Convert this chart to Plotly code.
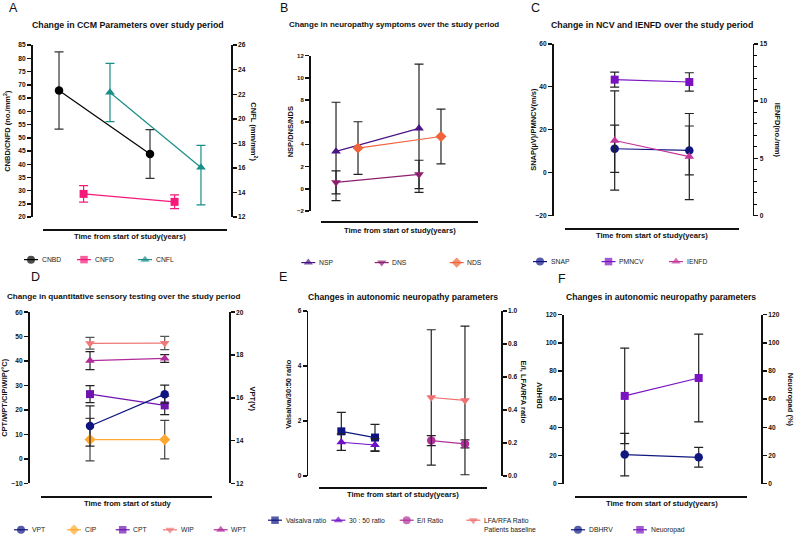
import plotly.graph_objects as go

W, H = 794, 538
FONT = "Liberation Sans, Arial, sans-serif"

# ---------------- data ----------------
time_points = [0, 1]

# Panel A - CCM parameters (mean, upper SD, lower SD)
cnbd_mean = [67.9, 43.9]
cnbd_sd = [14.6, 9.2]
cnbd_sd_minus = [14.6, 9.2]
cnfd_mean = [28.8, 25.8]
cnfd_sd = [3.1, 2.6]
cnfd_sd_minus = [3.1, 2.6]
cnfl_mean = [22.15, 16.05]
cnfl_sd = [2.37, 1.8]
cnfl_sd_minus = [2.37, 3.05]

# Panel B - neuropathy symptoms
nsp_mean = [3.37, 5.45]
nsp_sd = [4.43, 5.78]
dns_mean = [0.58, 1.29]
dns_sd = [1.04, 1.28]
nds_mean = [3.67, 4.71]
nds_sd = [2.37, 2.46]

# Panel C - NCV and IENFD
snap_mean = [11.1, 10.3]
snap_sd = [11.0, 11.4]
pmncv_mean = [43.3, 42.2]
pmncv_sd = [3.5, 4.3]
ienfd_mean = [6.55, 5.15]
ienfd_sd = [4.34, 3.76]

# Panel D - quantitative sensory testing
vpt_mean = [14.68, 16.17]
vpt_sd = [0.94, 0.42]
cip_mean = [7.9, 7.9]
cip_sd = [8.7, 7.9]
cpt_mean = [26.5, 21.9]
cpt_sd = [3.5, 3.8]
wip_mean = [47.3, 47.4]
wip_sd = [2.4, 2.7]
wpt_mean = [40.2, 41.1]
wpt_sd = [3.7, 1.6]

# Panel E - autonomic parameters
valsalva_mean = [1.625, 1.40]
valsalva_sd = [0.69, 0.48]
r3050_mean = [1.23, 1.13]
r3050_sd = [0.30, 0.23]
ei_mean = [0.215, 0.195]
ei_sd = [0.03, 0.024]
lfa_mean = [0.476, 0.458]
lfa_sd = [0.41, 0.45]

# Panel F - autonomic parameters
dbhrv_mean = [20.65, 18.7]
dbhrv_sd = [15.05, 7.0]
neuropad_mean = [62.3, 75.0]
neuropad_sd = [33.9, 31.2]

# ---------------- panel layout (pixels) ----------------
panels = {
    "A": dict(x="x", yl="y", yr="y2", xdom=(43, 227), ypx=(41.7, 216), xline=229, lpos=31, rpos=231,
              xrange=(-0.176, 1.846), tick=6.6,
              ylc=dict(range=(20, 85), dtick=5), yrc=dict(range=(12, 26), dtick=2)),
    "B": dict(x="x2", yl="y3", yr=None, xdom=(321, 478), ypx=(52.3, 209.7), xline=220.7, lpos=309, rpos=None,
              xrange=(-0.181, 1.711), tick=6.0,
              ylc=dict(range=(-2, 12), dtick=2), yrc=None),
    "C": dict(x="x3", yl="y4", yr="y5", xdom=(565, 739), ypx=(40.3, 214.3), xline=228.3, lpos=552, rpos=752.7,
              xrange=(-0.666, 1.666), tick=6.6,
              ylc=dict(range=(-20, 60), dtick=20),
              yrc=dict(range=(0, 15), dtick=5,
                       minor=dict(dtick=1, ticklen=2.5, tickwidth=1.1, ticks="outside", tickcolor="black"))),
    "D": dict(x="x4", yl="y6", yr="y7", xdom=(40.7, 212), ypx=(312.3, 485.7), xline=499, lpos=28, rpos=229,
              xrange=(-0.66, 1.633), tick=6.6,
              ylc=dict(range=(-10, 60), dtick=10), yrc=dict(range=(12, 20), dtick=2)),
    "E": dict(x="x5", yl="y8", yr="y9", xdom=(319, 486.7), ypx=(311, 478.3), xline=490.7, lpos=306.7, rpos=501,
              xrange=(-0.662, 4.315), tick=6.6,
              ylc=dict(range=(0, 6), dtick=2), yrc=dict(range=(0, 1), dtick=0.2, tickformat=".1f")),
    "F": dict(x="x6", yl="y10", yr="y11", xdom=(575, 746.7), ypx=(314.7, 486), xline=499.3, lpos=562, rpos=761.3,
              xrange=(-0.672, 1.649), tick=6.6,
              ylc=dict(range=(0, 120), dtick=20), yrc=dict(range=(0, 120), dtick=20)),
}

# panel, label, mean, sd(+), sd(-), side, symbol, color, dodge, error colour
series = [
    ("A", "CNBD", cnbd_mean, cnbd_sd, cnbd_sd_minus, "l", "circle", "#000000", 0.0, "#333333"),
    ("A", "CNFD", cnfd_mean, cnfd_sd, cnfd_sd_minus, "l", "square", "#F5197A", 0.27, "#F5197A"),
    ("A", "CNFL", cnfl_mean, cnfl_sd, cnfl_sd_minus, "r", "triangle-up", "#178E88", 0.56, "#178E88"),
    ("B", "NSP", nsp_mean, nsp_sd, nsp_sd, "l", "triangle-up", "#4A1486", 0.0, "#222222"),
    ("B", "DNS", dns_mean, dns_sd, dns_sd, "l", "triangle-down", "#8E1F6E", 0.0, "#222222"),
    ("B", "NDS", nds_mean, nds_sd, nds_sd, "l", "diamond", "#F0643C", 0.265, "#222222"),
    ("C", "SNAP", snap_mean, snap_sd, snap_sd, "l", "circle", "#101585", 0.0, "#222222"),
    ("C", "PMNCV", pmncv_mean, pmncv_sd, pmncv_sd, "l", "square", "#7A12C2", 0.0, "#222222"),
    ("C", "IENFD", ienfd_mean, ienfd_sd, ienfd_sd, "r", "triangle-up", "#C4359E", 0.0, "#222222"),
    ("D", "VPT", vpt_mean, vpt_sd, vpt_sd, "r", "circle", "#0E1580", 0.0, "#222222"),
    ("D", "CIP", cip_mean, cip_sd, cip_sd, "l", "diamond", "#FFA933", 0.0, "#444444"),
    ("D", "CPT", cpt_mean, cpt_sd, cpt_sd, "l", "square", "#6F13B0", 0.0, "#222222"),
    ("D", "WIP", wip_mean, wip_sd, wip_sd, "l", "triangle-down", "#F07878", 0.0, "#555555"),
    ("D", "WPT", wpt_mean, wpt_sd, wpt_sd, "l", "triangle-up", "#B02A98", 0.0, "#222222"),
    ("E", "Valsalva ratio", valsalva_mean, valsalva_sd, valsalva_sd, "l", "square", "#0E1580", 0.0, "#222222"),
    ("E", "30 : 50 ratio", r3050_mean, r3050_sd, r3050_sd, "l", "triangle-up", "#7010C8", 0.0, "#222222"),
    ("E", "E/I Ratio", ei_mean, ei_sd, ei_sd, "r", "circle", "#B0309A", 2.67, "#222222"),
    ("E", "LFA/RFA Ratio<br>Patients baseline", lfa_mean, lfa_sd, lfa_sd, "r", "triangle-down", "#F07070", 2.67,
     "#222222"),
    ("F", "DBHRV", dbhrv_mean, dbhrv_sd, dbhrv_sd, "l", "circle", "#101880", 0.0, "#222222"),
    ("F", "Neuoropad", neuropad_mean, neuropad_sd, neuropad_sd, "r", "square", "#7A14C0", 0.0, "#222222"),
]

# legend layout: marker x positions (px) and row y (px)
legend_pos = {
    "A": (259, [31, 84, 145]),
    "B": (262, [308.3, 381.7, 456.7]),
    "C": (261, [540, 608.5, 676]),
    "D": (532.7, [21, 74, 122.7, 170, 220.7]),
    "E": (523, [275, 338.3, 406.7, 473.3]),
    "F": (532.7, [578, 640]),
}

titles = {
    "A": ("Change in CCM Parameters over study period", 127.5, 21.5, 8.8),
    "B": ("Change in neuropathy symptoms over the study period", 393.7, 21, 8.0),
    "C": ("Change in NCV and IENFD over the study period", 651.7, 21.5, 8.8),
    "D": ("Change in quantitative sensory testing over the study period", 123.8, 296, 8.1),
    "E": ("Changes in autonomic neuropathy parameters", 403, 296.5, 8.6),
    "F": ("Changes in autonomic neuropathy parameters", 661.3, 296.5, 8.6),
}
xlabels = {
    "A": ("Time from start of study(years)", 129.8, 236),
    "B": ("Time from start of study(years)", 400, 229.3),
    "C": ("Time from start of study(years)", 652, 235),
    "D": ("Time from start of study", 127.8, 505.7),
    "E": ("Time from start of study(years)", 403.3, 497.3),
    "F": ("Time from start of study(years)", 661.5, 505.7),
}
ytitles = [
    ("CNBD/CNFD (no./mm<sup>2</sup>)", 7.5, 129, -90),
    ("CNFL (mm/mm<sup>2</sup>)", 254, 129, 90),
    ("NSP/DNS/NDS", 290, 130, -90),
    ("SNAP(µV)/PMNCV(m/s)", 533.5, 127, -90),
    ("IENFD(no./mm)", 777.5, 128, 90),
    ("CPT/WPT/CIP/WIP(°C)", 5, 399, -90),
    ("VPT(V)", 252.3, 400, 90),
    ("Valsalva/30:50 ratio", 289, 395, -90),
    ("E/I, LFA/RFA ratio", 523.3, 393, 90),
    ("DBHRV", 540, 397, -90),
    ("Neuoropad (%)", 790, 401, 90),
]
letters = [("A", 13.7, 4), ("B", 283.8, 4), ("C", 535, 4),
           ("D", 35, 276.5), ("E", 283.3, 277), ("F", 562, 278.5)]

# ---------------- build ----------------
def lk(ref):
    return ref[0] + "axis" + ref[1:]

fig = go.Figure()
layout = {}

for key, p in panels.items():
    xd0, xd1 = p["xdom"]
    ytop, ybot = p["ypx"]
    ydom = [1 - ybot / H, 1 - ytop / H]
    layout[lk(p["x"])] = dict(
        domain=[xd0 / W, xd1 / W], range=list(p["xrange"]), anchor="free",
        position=1 - p["xline"] / H, showline=True, linecolor="#111111", linewidth=2,
        showticklabels=False, ticks="", showgrid=False, zeroline=False, fixedrange=True)
    tickfont = dict(family=FONT, size=p["tick"], color="#111111", weight="bold")
    common = dict(anchor="free", showline=True, linecolor="#111111", linewidth=1.7,
                  ticks="outside", ticklen=4, tickwidth=1.5, tickcolor="#111111",
                  showgrid=False, zeroline=False, tickfont=tickfont, fixedrange=True, tick0=0)
    yl = dict(common, domain=ydom, position=p["lpos"] / W, side="left", **p["ylc"])
    yl["range"] = list(yl["range"])
    layout[lk(p["yl"])] = yl
    if p["yr"]:
        yr = dict(common, overlaying=p["yl"], position=p["rpos"] / W, side="right", **p["yrc"])
        yr["range"] = list(yr["range"])
        layout[lk(p["yr"])] = yr

# overlay axes covering the whole page (pixel units) for legend keys
layout["xaxis7"] = dict(domain=[0, 1], range=[0, W], visible=False, anchor="y12", fixedrange=True)
layout["yaxis12"] = dict(domain=[0, 1], range=[H, 0], visible=False, anchor="x7", fixedrange=True)

msize = {"circle": 8.5, "square": 8, "triangle-up": 8.5, "triangle-down": 8.5, "diamond": 8.5}
LEG_FONT = 6.8

annotations = []
legend_count = {k: 0 for k in panels}
for (key, label, mean, sdp, sdm, side, sym, col, dodge, ecol) in series:
    p = panels[key]
    yref = p["yl"] if side == "l" else p["yr"]
    fig.add_trace(go.Scatter(
        x=[t + dodge for t in time_points], y=mean, mode="lines+markers",
        name=label.replace("<br>", " "),
        line=dict(color=col, width=1.2),
        marker=dict(symbol=sym, size=msize[sym], color=col, line=dict(width=0)),
        error_y=dict(type="data", array=sdp, arrayminus=sdm, symmetric=False, visible=True,
                     color=ecol, thickness=1.2, width=4.5),
        xaxis=p["x"], yaxis=yref, showlegend=False, cliponaxis=False))
    # legend key
    ly, xs = legend_pos[key]
    lx = xs[legend_count[key]]
    legend_count[key] += 1
    fig.add_trace(go.Scatter(
        x=[lx - 7, lx, lx + 7], y=[ly, ly, ly], mode="lines+markers",
        line=dict(color=col, width=1.2),
        marker=dict(symbol=sym, size=[0, msize[sym] - 0.5, 0], color=col, line=dict(width=0)),
        xaxis="x7", yaxis="y12", showlegend=False, hoverinfo="skip"))
    if "<br>" in label:
        annotations.append(dict(text=label, x=(lx + 8.5) / W, y=1 - (ly - 4.8) / H, xref="paper", yref="paper",
                                xanchor="left", yanchor="top", align="left", showarrow=False,
                                font=dict(family=FONT, size=LEG_FONT, color="#222222")))
    else:
        annotations.append(dict(text=label, x=(lx + 8.5) / W, y=1 - ly / H, xref="paper", yref="paper",
                                xanchor="left", yanchor="middle", showarrow=False,
                                font=dict(family=FONT, size=LEG_FONT, color="#222222")))

for key, (t, x, y, s) in titles.items():
    annotations.append(dict(text=t, x=x / W, y=1 - y / H, xref="paper", yref="paper", showarrow=False,
                            xanchor="center", yanchor="middle",
                            font=dict(family=FONT, size=s, color="#111111", weight="bold")))
for key, (t, x, y) in xlabels.items():
    annotations.append(dict(text=t, x=x / W, y=1 - y / H, xref="paper", yref="paper", showarrow=False,
                            xanchor="center", yanchor="middle",
                            font=dict(family=FONT, size=7.6, color="#111111", weight="bold")))
for (t, x, y, ang) in ytitles:
    annotations.append(dict(text=t, x=x / W, y=1 - y / H, xref="paper", yref="paper", showarrow=False,
                            xanchor="center", yanchor="middle", textangle=ang,
                            font=dict(family=FONT, size=7.5, color="#111111", weight="bold")))
for (t, x, y) in letters:
    annotations.append(dict(text=t, x=x / W, y=1 - y / H, xref="paper", yref="paper", showarrow=False,
                            xanchor="center", yanchor="middle",
                            font=dict(family=FONT, size=12.5, color="#111111")))

fig.update_layout(
    width=W, height=H, autosize=False,
    margin=dict(l=0, r=0, t=0, b=0, pad=0),
    paper_bgcolor="white", plot_bgcolor="rgba(0,0,0,0)",
    showlegend=False, annotations=annotations, **layout)

fig.write_html("out.html", config={"displayModeBar": False, "staticPlot": True},
               post_script="document.body.style.margin='0';document.body.style.padding='0';"
                           "document.documentElement.style.overflow='hidden';")
